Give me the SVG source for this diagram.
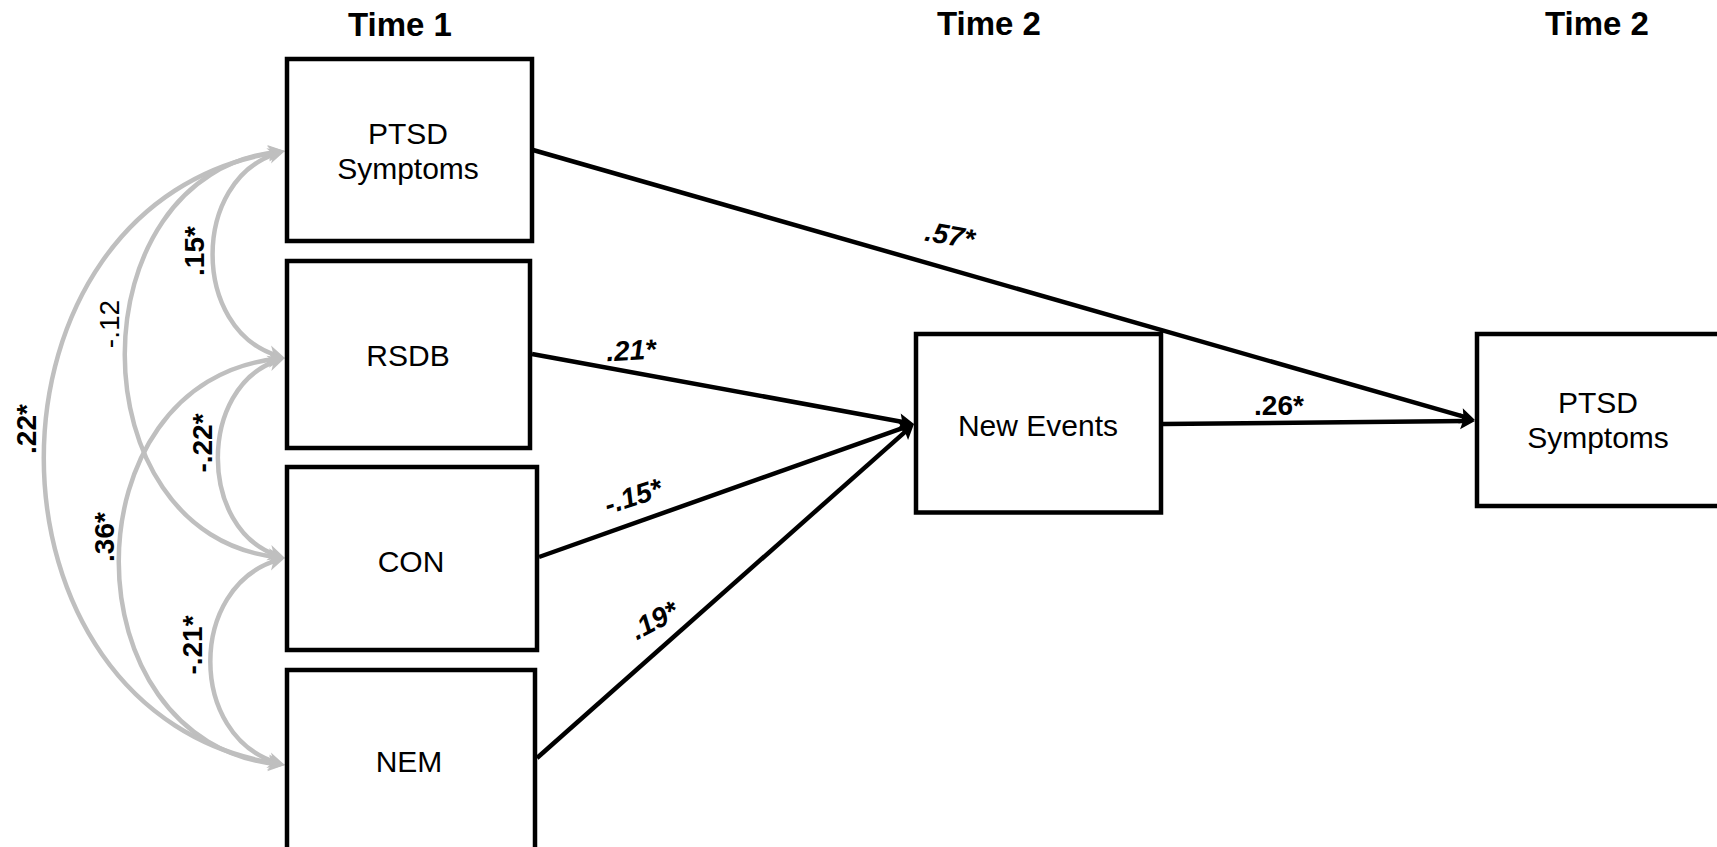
<svg xmlns="http://www.w3.org/2000/svg" width="1717" height="847" viewBox="0 0 1717 847">
<style>
text { font-family: "Liberation Sans", Arial, Helvetica, sans-serif; fill: #000; }
.hdr { font-size: 33px; font-weight: bold; text-anchor: middle; }
.node rect { fill: #fff; stroke: #000; stroke-width: 4.5; }
.node text { font-size: 30px; text-anchor: middle; }
.path { fill: none; stroke: #000; stroke-width: 4.5; marker-end: url(#ahB); }
.cov { fill: none; stroke: #bfbfbf; stroke-width: 4.5; marker-start: url(#ahG); marker-end: url(#ahG); }
.lbl { font-size: 28px; font-weight: bold; text-anchor: middle; }
.it { font-style: italic; }
.reg { font-weight: normal; }
</style>
<defs>
<marker id="ahB" markerUnits="userSpaceOnUse" markerWidth="16" markerHeight="16" refX="5" refY="8" orient="auto" overflow="visible">
<path d="M0,0 L15,8 L0,16 L3,8 z" fill="#000"/>
</marker>
<marker id="ahG" markerUnits="userSpaceOnUse" markerWidth="18" markerHeight="16" refX="9" refY="8" orient="auto-start-reverse" overflow="visible">
<path d="M0,0 L17,8 L0,16 L5,8 z" fill="#bfbfbf"/>
</marker>
</defs>
<rect width="1717" height="847" fill="#fff"/>

<g id="headers">
<text class="hdr" x="400" y="36">Time 1</text>
<text class="hdr" x="989" y="35">Time 2</text>
<text class="hdr" x="1597" y="35">Time 2</text>
</g>

<g id="connectors">
<path class="cov" d="M277.3,153.3 C191,180 191,329 277.3,355.7"/>
<path class="cov" d="M277.4,360.5 C198,387 198,529 277.4,555.5"/>
<path class="cov" d="M277.3,560.2 C188,587 188,736 277.3,762.8"/>
<path class="cov" d="M277.0,151.9 C74,174 74,535 277.0,557.1"/>
<path class="cov" d="M277.0,358.8 C66,381 66,742 277.0,764.2"/>
<path class="cov" d="M277.1,152.2 C-34,201 -34,715 277.1,763.8"/>
<path class="path" d="M533,150 L1465.4,417.2"/>
<path class="path" d="M532,354 L904.2,422.2"/>
<path class="path" d="M539,557 L904.6,427.3"/>
<path class="path" d="M537,758 L906.5,430.6"/>
<path class="path" d="M1163,424 L1465,421.1"/>
<text class="lbl" transform="translate(194,251) rotate(-90)" x="0" y="10">.15*</text>
<text class="lbl reg" transform="translate(109,324) rotate(-90)" x="0" y="10">-.12</text>
<text class="lbl" transform="translate(26,429) rotate(-90)" x="0" y="10">.22*</text>
<text class="lbl" transform="translate(202,443) rotate(-90)" x="0" y="10">-.22*</text>
<text class="lbl" transform="translate(104,537) rotate(-90)" x="0" y="10">.36*</text>
<text class="lbl" transform="translate(192,645) rotate(-90)" x="0" y="10">-.21*</text>
<text class="lbl it" transform="translate(950,235) rotate(10)" x="0" y="10">.57*</text>
<text class="lbl it" transform="translate(631,350) rotate(-3)" x="0" y="10">.21*</text>
<text class="lbl it" transform="translate(633,496) rotate(-18)" x="0" y="10">-.15*</text>
<text class="lbl it" transform="translate(654,620) rotate(-28)" x="0" y="10">.19*</text>
<text class="lbl" x="1279" y="415">.26*</text>
</g>

<g id="ptsd1" class="node">
<rect x="287" y="59" width="245" height="182"/>
<text x="408" y="144">PTSD</text>
<text x="408" y="179">Symptoms</text>
</g>
<g id="rsdb" class="node">
<rect x="287" y="261" width="243" height="187"/>
<text x="408" y="366">RSDB</text>
</g>
<g id="con" class="node">
<rect x="287" y="467" width="250" height="183"/>
<text x="411" y="572">CON</text>
</g>
<g id="nem" class="node">
<rect x="287" y="670" width="248" height="200"/>
<text x="409" y="772">NEM</text>
</g>
<g id="newevents" class="node">
<rect x="916" y="334" width="245" height="178.5"/>
<text x="1038" y="436">New Events</text>
</g>
<g id="ptsd2" class="node">
<rect x="1477" y="334" width="260" height="172"/>
<text x="1598" y="413">PTSD</text>
<text x="1598" y="448">Symptoms</text>
</g>
</svg>
